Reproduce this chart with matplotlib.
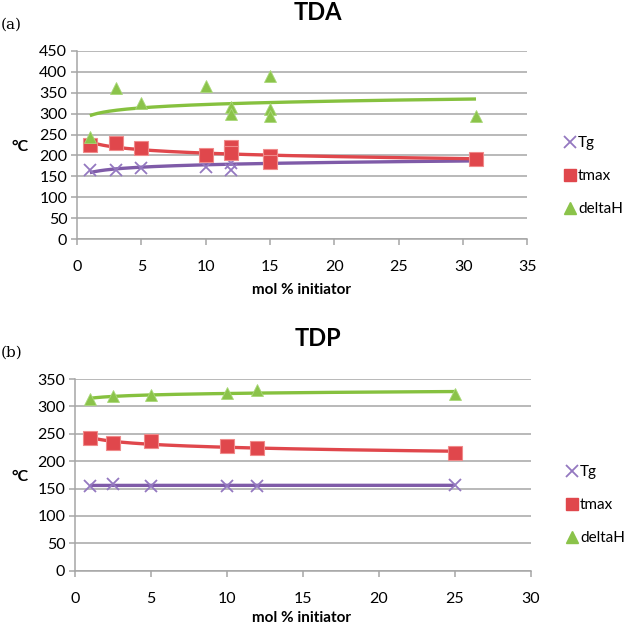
import numpy as np
import matplotlib.pyplot as plt
from matplotlib.lines import Line2D

# ---- data ----
# (a) TDA
tda_tg_x = [1, 3, 5, 10, 12, 12, 15, 15, 31]
tda_tg_y = [165, 165, 169, 173, 165, 182, 186, 188, 192]
tda_tmax_x = [1, 3, 5, 10, 12, 12, 15, 15, 31]
tda_tmax_y = [224, 229, 219, 201, 221, 205, 198, 185, 191]
tda_dh_x = [1, 3, 5, 10, 12, 12, 15, 15, 15, 31]
tda_dh_y = [245, 360, 325, 365, 315, 300, 390, 310, 295, 295]

# (b) TDP
tdp_x = [1, 2.5, 5, 10, 12, 25]
tdp_tg = [155, 158, 155, 155, 155, 157]
tdp_tmax = [242, 234, 236, 227, 224, 215]
tdp_dh = [313, 319, 320, 325, 330, 322]

labels = ['Tg', 'tmax', 'deltaH']
colors = ['#8064A2', '#E0474C', '#8BC34A']
line_colors = ['#7F5BA8', '#E0474C', '#86C13F']

plt.rcParams['font.family'] = ['Lato', 'DejaVu Sans']

fig = plt.figure(figsize=(6.27, 6.24), dpi=100)


def log_trend(ax, x, y, color):
    # Excel-style logarithmic trendline over the data range
    x = np.asarray(x, float)
    k, b = np.polyfit(np.log(x), y, 1)
    xs = np.linspace(x.min(), x.max(), 200)
    ax.plot(xs, k * np.log(xs) + b, color=color, lw=2.4, zorder=2,
            solid_capstyle='butt')


def draw_markers(ax, x, y, i):
    if i == 0:
        ax.plot(x, y, ls='none', marker='x', ms=9, mew=1.3,
                color='#9478C0', zorder=3)
    elif i == 1:
        ax.plot(x, y, ls='none', marker='s', ms=10,
                color=colors[1], mec='#F08A8A', mew=0.8, zorder=3)
    else:
        ax.plot(x, y, ls='none', marker='^', ms=9,
                color=colors[2], mec='#A9D878', mew=0.6, zorder=3)


def style_axes(ax, xmax, ymax):
    ax.set_xlim(0, xmax)
    ax.set_ylim(0, ymax)
    ax.set_xticks(np.arange(0, xmax + 1, 5))
    ax.set_yticks(np.arange(0, ymax + 1, 50))
    ax.yaxis.grid(True, color='#A6A6A6', lw=1.1)
    ax.set_axisbelow(True)
    for s in ['top', 'right']:
        ax.spines[s].set_visible(False)
    for s in ['left', 'bottom']:
        ax.spines[s].set_color('#A6A6A6')
        ax.spines[s].set_linewidth(1.1)
    ax.tick_params(axis='both', direction='out', length=4, width=1.1,
                   color='#A6A6A6', labelsize=11.5, labelcolor='black')
    ax.tick_params(axis='x', pad=11)
    ax.tick_params(axis='y', pad=3)


def add_legend(ax, x0, y0):
    handles = [
        Line2D([], [], ls='none', marker='x', ms=9, mew=1.3, color='#9478C0'),
        Line2D([], [], ls='none', marker='s', ms=9, color=colors[1]),
        Line2D([], [], ls='none', marker='^', ms=9, color=colors[2]),
    ]
    fig.legend(handles, labels, loc='upper left', bbox_to_anchor=(x0, y0),
               frameon=False, fontsize=11, labelspacing=1.25,
               handlelength=0.6, handletextpad=0.25, borderpad=0,
               borderaxespad=0)


# ---- (a) TDA ----
ax1 = fig.add_axes([0.1228, 0.6165, 0.7185, 0.3022])
style_axes(ax1, 35, 450)
series_a = [(tda_tg_x, tda_tg_y), (tda_tmax_x, tda_tmax_y), (tda_dh_x, tda_dh_y)]
for i, (x, y) in enumerate(series_a):
    draw_markers(ax1, x, y, i)
for i, (x, y) in enumerate(series_a):
    log_trend(ax1, x, y, line_colors[i])

# ---- (b) TDP ----
ax2 = fig.add_axes([0.1196, 0.0854, 0.7273, 0.3072])
style_axes(ax2, 30, 350)
series_b = [tdp_tg, tdp_tmax, tdp_dh]
for i, y in enumerate(series_b):
    draw_markers(ax2, tdp_x, y, i)
for i, y in enumerate(series_b):
    log_trend(ax2, tdp_x, y, line_colors[i])

# ---- text ----
fig.text(318 / 627, 1 - 13 / 624, 'TDA', ha='center', va='center',
         fontsize=17, fontweight='bold')
fig.text(318 / 627, 1 - 338 / 624, 'TDP', ha='center', va='center',
         fontsize=17, fontweight='bold')
fig.text(1 / 627, 1 - 25 / 624, '(a)', ha='left', va='center',
         fontsize=11, family='DejaVu Serif')
fig.text(1 / 627, 1 - 353 / 624, '(b)', ha='left', va='center',
         fontsize=11, family='DejaVu Serif')
fig.text(20 / 627, 1 - 147 / 624, '°C', ha='center', va='center',
         fontsize=11.5, fontweight='bold')
fig.text(20 / 627, 1 - 477 / 624, '°C', ha='center', va='center',
         fontsize=11.5, fontweight='bold')
fig.text(301 / 627, 1 - 290 / 624, 'mol % initiator', ha='center',
         va='center', fontsize=11, fontweight='bold')
fig.text(301 / 627, 1 - 618 / 624, 'mol % initiator', ha='center',
         va='center', fontsize=11, fontweight='bold')

add_legend(ax1, 565 / 627, 1 - 136 / 624)
add_legend(ax2, 567 / 627, 1 - 465 / 624)

fig.savefig('out.png', dpi=100)
